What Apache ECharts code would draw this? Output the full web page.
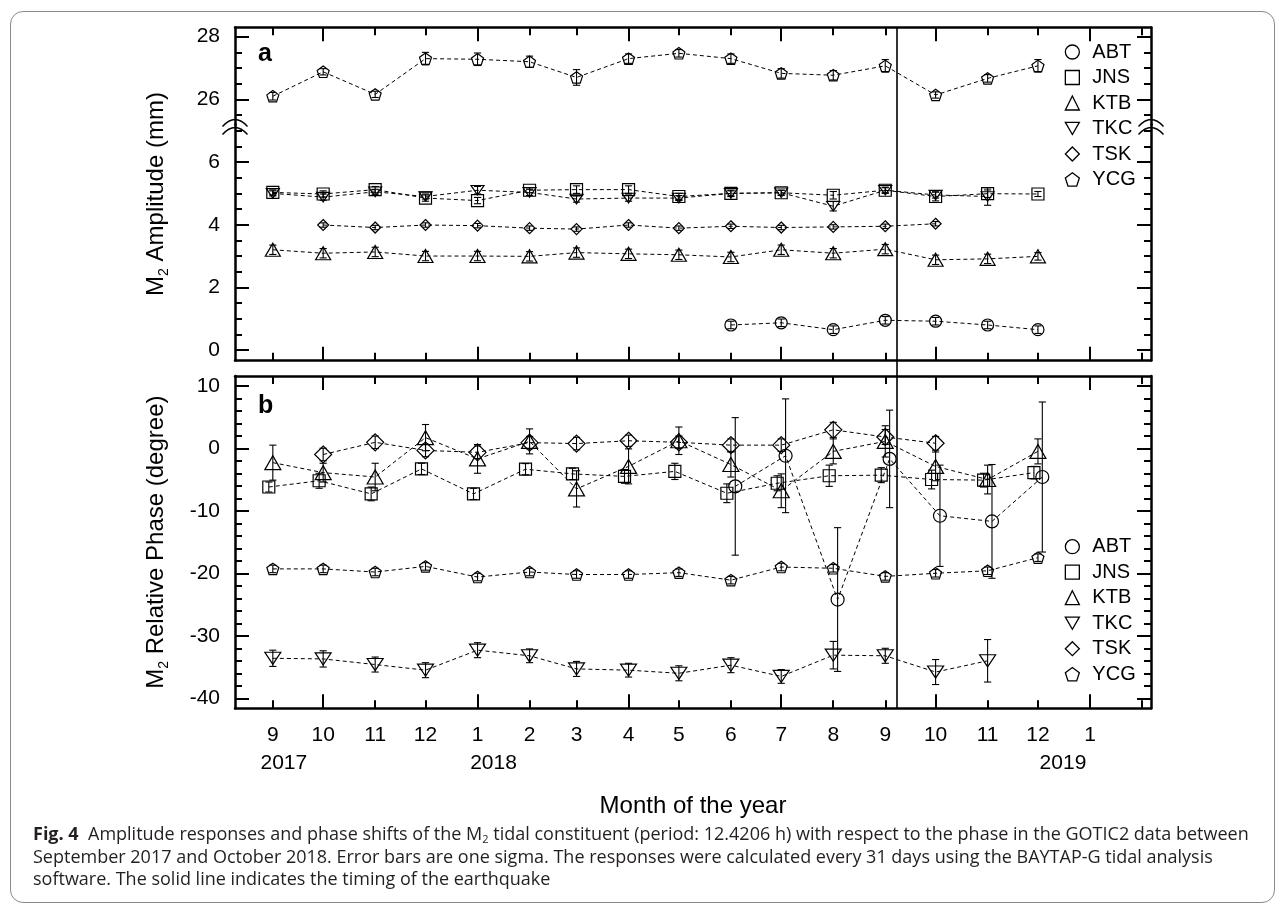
<!DOCTYPE html>
<html>
<head>
<meta charset="utf-8">
<script src="https://cdn.jsdelivr.net/npm/echarts@6/dist/echarts.min.js"></script>
<style>
html,body{margin:0;padding:0;background:#fff;}
#wrap{position:relative;width:1284px;height:906px;overflow:hidden;}
#frame{position:absolute;left:10px;top:11px;width:1265px;height:892px;border:1.5px solid #8a8a8a;border-radius:13px;box-sizing:border-box;}
#chart{position:absolute;left:0;top:0;width:1284px;height:906px;}
#cap{position:absolute;left:33px;top:822px;font-family:'Open Sans',sans-serif;font-size:18px;line-height:22.5px;color:#231f20;white-space:nowrap;}
#cap sub{font-size:11px;line-height:0;vertical-align:-3px;}
</style>
</head>
<body>
<div id="wrap">
<div id="frame"></div>
<div id="chart"></div>
<div id="cap"><b>Fig. 4</b>&nbsp; Amplitude responses and phase shifts of the M<sub>2</sub> tidal constituent (period: 12.4206 h) with respect to the phase in the GOTIC2 data between<br>September 2017 and October 2018. Error bars are one sigma. The responses were calculated every 31 days using the BAYTAP-G tidal analysis<br>software. The solid line indicates the timing of the earthquake</div>
</div>
<script>
// ---------------- DATA ----------------
const months = ['2017-09','2017-10','2017-11','2017-12','2018-01','2018-02','2018-03','2018-04',
                '2018-05','2018-06','2018-07','2018-08','2018-09','2018-10','2018-11','2018-12'];
const tickMonths = ['2017-09','2017-10','2017-11','2017-12','2018-01','2018-02','2018-03','2018-04','2018-05',
                    '2018-06','2018-07','2018-08','2018-09','2018-10','2018-11','2018-12','2019-01','2019-02'];
const longTickMonths = ['2017-10','2018-01','2018-04','2018-07','2018-10','2019-01'];
const monthLabelMonths = ['2017-09','2017-10','2017-11','2017-12','2018-01','2018-02','2018-03','2018-04','2018-05',
                          '2018-06','2018-07','2018-08','2018-09','2018-10','2018-11','2018-12','2019-01'];
const yearLabelMonths = ['2017-09','2018-01','2019-01'];
const earthquakeDate = '2018-09-08';

const stations = ['ABT','JNS','KTB','TKC','TSK','YCG'];

const ampMajorTicks = [0,2,4,6,26,28];
const ampMinorTicks = [0.5,1,1.5,2.5,3,3.5,4.5,5,5.5,6.5,7,25.5,26.5,27,27.5];
const phaseMajorTicks = [-40,-30,-20,-10,0,10];
const phaseMinorTicks = [-38,-36,-34,-32,-28,-26,-24,-22,-18,-16,-14,-12,-8,-6,-4,-2,2,4,6,8];

// Panel a: M2 amplitude (mm)
const ampABT    = [null,null,null,null,null,null,null,null,null,0.80,0.87,0.65,0.95,0.92,0.80,0.65];
const ampABTErr = [null,null,null,null,null,null,null,null,null,0.12,0.12,0.12,0.12,0.12,0.12,0.12];
const ampJNS    = [5.03,4.98,5.12,4.85,4.77,5.10,5.12,5.12,4.90,5.00,5.02,4.94,5.10,4.90,4.99,4.98];
const ampJNSErr = [0.08,0.10,0.10,0.10,0.10,0.08,0.12,0.12,0.10,0.10,0.08,0.12,0.10,0.14,0.12,0.08];
const ampKTB    = [3.20,3.09,3.13,3.00,3.00,2.99,3.11,3.07,3.04,2.97,3.20,3.09,3.22,2.88,2.91,2.99];
const ampKTBErr = [0.15,0.15,0.15,0.15,0.15,0.15,0.15,0.15,0.15,0.15,0.15,0.15,0.15,0.15,0.15,0.12];
const ampTKC    = [5.00,4.88,5.05,4.90,5.10,5.03,4.82,4.85,4.85,5.00,5.02,4.59,5.10,4.95,4.90,null];
const ampTKCErr = [0.08,0.10,0.08,0.08,0.12,0.10,0.10,0.10,0.08,0.08,0.08,0.15,0.08,0.10,0.28,null];
const ampTSK    = [null,3.99,3.91,3.99,3.97,3.89,3.86,3.99,3.89,3.95,3.91,3.93,3.95,4.03,null,null];
const ampTSKErr = [null,0.07,0.07,0.07,0.07,0.07,0.07,0.07,0.07,0.07,0.07,0.07,0.07,0.07,null,null];
const ampYCG    = [26.10,26.88,26.16,27.30,27.28,27.20,26.70,27.30,27.47,27.30,26.83,26.77,27.07,26.14,26.67,27.07];
const ampYCGErr = [0.12,0.10,0.10,0.20,0.20,0.18,0.25,0.15,0.12,0.15,0.15,0.15,0.20,0.10,0.12,0.20];

// Panel b: M2 relative phase (degree)
const phABT    = [null,null,null,null,null,null,null,null,null,-6.1,-1.2,-24.2,-1.7,-10.8,-11.7,-4.6];
const phABTErr = [null,null,null,null,null,null,null,null,null,11.0,9.1,11.5,7.8,8.1,9.1,12.0];
const phJNS    = [-6.2,-5.2,-7.3,-3.3,-7.3,-3.35,-4.1,-4.5,-3.7,-7.2,-5.6,-4.4,-4.3,-5.0,-5.1,-3.9];
const phJNSErr = [0.8,1.2,1.1,0.9,0.9,0.9,0.9,1.1,1.3,1.5,1.2,1.7,1.2,1.5,1.1,1.0];
const phKTB    = [-2.3,-3.9,-4.6,1.7,-1.7,1.1,-6.5,-2.9,1.2,-2.6,-6.8,-0.5,1.1,-2.9,-5.0,-0.5];
const phKTBErr = [2.8,1.5,2.2,2.1,2.3,2.0,2.9,2.8,2.2,2.0,2.7,2.0,2.5,2.3,2.3,2.0];
const phTKC    = [-33.6,-33.7,-34.6,-35.5,-32.3,-33.2,-35.3,-35.5,-36.0,-34.7,-36.5,-33.1,-33.2,-35.8,-34.0,null];
const phTKCErr = [1.3,1.3,1.2,1.2,1.2,1.1,1.2,1.1,1.2,1.2,1.1,2.2,1.2,2.0,3.4,null];
const phTSK    = [null,-1.0,0.95,-0.35,-0.65,0.9,0.75,1.2,0.95,0.5,0.5,2.95,1.8,0.8,null,null];
const phTSKErr = [null,1.0,1.0,1.0,1.0,1.0,1.0,0.9,1.0,1.0,1.0,1.2,1.2,1.1,null,null];
const phYCG    = [-19.3,-19.3,-19.8,-18.9,-20.6,-19.8,-20.2,-20.2,-19.9,-21.1,-19.0,-19.2,-20.5,-20.0,-19.6,-17.5];
const phYCGErr = [0.6,0.6,0.6,0.6,0.6,0.6,0.6,0.6,0.6,0.6,0.6,0.6,0.6,0.6,0.6,0.6];

const ampValues = {ABT:ampABT, JNS:ampJNS, KTB:ampKTB, TKC:ampTKC, TSK:ampTSK, YCG:ampYCG};
const ampErrors = {ABT:ampABTErr, JNS:ampJNSErr, KTB:ampKTBErr, TKC:ampTKCErr, TSK:ampTSKErr, YCG:ampYCGErr};
const phValues  = {ABT:phABT, JNS:phJNS, KTB:phKTB, TKC:phTKC, TSK:phTSK, YCG:phYCG};
const phErrors  = {ABT:phABTErr, JNS:phJNSErr, KTB:phKTBErr, TKC:phTKCErr, TSK:phTSKErr, YCG:phYCGErr};

// ---------------- STYLE ----------------
const FONT = '"Liberation Sans", Arial, Helvetica, sans-serif';
const INV_TRI = 'path://M0,0 L100,0 L50,86.6 Z';
const PENTAGON = 'path://M50,0 L97.55,34.55 L79.39,90.45 L20.61,90.45 L2.45,34.55 Z';
const stationStyle = {
  ABT: {symbol:'circle',   sizeA:[12,12], sizeB:[13,13], dodgeDaysB: 2.6},
  JNS: {symbol:'rect',     sizeA:[12,12], sizeB:[12,12], dodgeDaysB:-2.4},
  KTB: {symbol:'triangle', sizeA:[15,13], sizeB:[16,14], dodgeDaysB: 0},
  TKC: {symbol:INV_TRI,    sizeA:[13,11], sizeB:[16,14], dodgeDaysB: 0},
  TSK: {symbol:'diamond',  sizeA:[11,11], sizeB:[17,17], dodgeDaysB: 0},
  YCG: {symbol:PENTAGON,   sizeA:[12,12], sizeB:[12,12], dodgeDaysB: 0}
};
const yearLabelShift = {'2017': [0, 0, 0, 22], '2018': [0, 0, 0, 32], '2019': [0, 54, 0, 0]};
const DAY = 86400000;
const ts = s => { const p = s.split('-').map(Number); return new Date(p[0], p[1]-1, p[2] || 1).getTime(); };
const X_MIN = new Date(2017, 7, 9, 11).getTime();
const X_MAX = new Date(2019, 1, 6, 9).getTime();

const GRID_L = 235, GRID_W = 916;
const grids = [
  {left: GRID_L, top: 27.3, width: GRID_W, height: 333.4},
  {left: GRID_L, top: 376, width: GRID_W, height: 332.3}
];

const longTs = longTickMonths.map(ts);
const shortTs = tickMonths.filter(m => longTickMonths.indexOf(m) < 0).map(ts);
const labelTs = monthLabelMonths.map(ts);
const yearTs = yearLabelMonths.map(ts);

function xAxisDef(gridIndex, position, long, withLine, extra) {
  return Object.assign({
    type: 'value', gridIndex, position, min: X_MIN, max: X_MAX, scale: true,
    axisLine: {show: withLine, onZero: false, lineStyle: {color: '#000', width: 2.5}},
    axisTick: {show: true, inside: true, length: long ? 14 : 8, customValues: long ? longTs : shortTs,
               lineStyle: {color: '#000', width: 2}},
    axisLabel: {show: false},
    splitLine: {show: false}
  }, extra || {});
}
function yAxisDef(gridIndex, position, min, max, ticks, long, withLine, extra) {
  return Object.assign({
    type: 'value', gridIndex, position, min, max,
    axisLine: {show: withLine, onZero: false, lineStyle: {color: '#000', width: 2.5}},
    axisTick: {show: true, inside: true, length: long ? 14 : 7, customValues: ticks,
               lineStyle: {color: '#000', width: 2}},
    axisLabel: {show: false},
    splitLine: {show: false}
  }, extra || {});
}

const AMP_MIN = -0.34, AMP_MAX = 28.3;
const PH_MIN = -41.6, PH_MAX = 11.56;
const ampBreak = {breaks: [{start: 7.2, end: 25.2, gap: 0}], breakArea: {show: false}};

const nameRich = {
  a: {fontSize: 24, fontFamily: FONT, color: '#000', lineHeight: 30},
  b: {fontSize: 14, fontFamily: FONT, color: '#000', lineHeight: 14, verticalAlign: 'bottom'}
};

const yLabel = {show: true, inside: false, margin: 15, fontSize: 21, fontFamily: FONT, color: '#000',
                showMinLabel: true, showMaxLabel: true};

const yearRich = {};
Object.keys(yearLabelShift).forEach(function (y) {
  yearRich['y' + y] = {fontSize: 21, fontFamily: FONT, color: '#000', lineHeight: 28, padding: yearLabelShift[y]};
});

const xAxes = [
  xAxisDef(0, 'bottom', true, true),
  xAxisDef(0, 'bottom', false, false),
  xAxisDef(0, 'top', true, true),
  xAxisDef(0, 'top', false, false),
  xAxisDef(1, 'bottom', true, true, {
    name: 'Month of the year', nameLocation: 'middle', nameGap: 86,
    nameTextStyle: {fontSize: 24, fontFamily: FONT, color: '#000'},
    axisLabel: {
      show: true, customValues: labelTs, margin: 13, color: '#000', fontFamily: FONT, fontSize: 21,
      lineHeight: 28, showMinLabel: true, showMaxLabel: true,
      formatter: function (v) { return String(new Date(v).getMonth() + 1); }
    }
  }),
  xAxisDef(1, 'bottom', false, false),
  xAxisDef(1, 'top', true, true),
  xAxisDef(1, 'top', false, false),
  // year line under the month numbers
  xAxisDef(1, 'bottom', false, false, {
    axisTick: {show: false},
    axisLabel: {
      show: true, customValues: yearTs, margin: 41, color: '#000', fontFamily: FONT, fontSize: 21,
      showMinLabel: true, showMaxLabel: true,
      formatter: function (v) { const y = new Date(v).getFullYear(); return '{y' + y + '|' + y + '}'; },
      rich: yearRich
    }
  })
];

const yAxes = [
  yAxisDef(0, 'left', AMP_MIN, AMP_MAX, ampMajorTicks, true, true, Object.assign({
    name: '{a|M}{b|2}{a| Amplitude (mm)}', nameLocation: 'middle', nameGap: 64, nameRotate: 90,
    nameTextStyle: {rich: nameRich},
    axisLabel: Object.assign({customValues: ampMajorTicks}, yLabel)
  }, ampBreak)),
  yAxisDef(0, 'left', AMP_MIN, AMP_MAX, ampMinorTicks, false, false, ampBreak),
  yAxisDef(0, 'right', AMP_MIN, AMP_MAX, ampMajorTicks, true, true, ampBreak),
  yAxisDef(0, 'right', AMP_MIN, AMP_MAX, ampMinorTicks, false, false, ampBreak),
  yAxisDef(1, 'left', PH_MIN, PH_MAX, phaseMajorTicks, true, true, {
    name: '{a|M}{b|2}{a| Relative Phase (degree)}', nameLocation: 'middle', nameGap: 64, nameRotate: 90,
    nameTextStyle: {rich: nameRich},
    axisLabel: Object.assign({customValues: phaseMajorTicks}, yLabel)
  }),
  yAxisDef(1, 'left', PH_MIN, PH_MAX, phaseMinorTicks, false, false),
  yAxisDef(1, 'right', PH_MIN, PH_MAX, phaseMajorTicks, true, true),
  yAxisDef(1, 'right', PH_MIN, PH_MAX, phaseMinorTicks, false, false)
];

function errorRender(params, api) {
  const x = api.value(0), lo = api.value(1), hi = api.value(2);
  const p1 = api.coord([x, hi]), p2 = api.coord([x, lo]);
  const h = 3.6, st = {stroke: '#000', lineWidth: 1.1};
  return {type: 'group', children: [
    {type: 'line', shape: {x1: p1[0], y1: p1[1], x2: p2[0], y2: p2[1]}, style: st},
    {type: 'line', shape: {x1: p1[0] - h, y1: p1[1], x2: p1[0] + h, y2: p1[1]}, style: st},
    {type: 'line', shape: {x1: p2[0] - h, y1: p2[1], x2: p2[0] + h, y2: p2[1]}, style: st}
  ]};
}

const series = [];
function addPanel(values, errors, xIdx, yIdx, sizeKey, dodgeKey) {
  stations.forEach(function (s) {
    const st = stationStyle[s];
    const shift = dodgeKey ? st[dodgeKey] * DAY : 0;
    const pts = [], errs = [];
    months.forEach(function (m, i) {
      const v = values[s][i];
      if (v === null) return;
      const t = ts(m) + shift;
      pts.push([t, v]);
      const e = errors[s][i];
      if (e !== null) errs.push([t, v - e, v + e]);
    });
    series.push({
      type: 'custom', xAxisIndex: xIdx, yAxisIndex: yIdx, renderItem: errorRender,
      encode: {x: 0, y: [1, 2]}, data: errs, silent: true, z: 2
    });
    series.push({
      type: 'line', name: s, xAxisIndex: xIdx, yAxisIndex: yIdx, data: pts,
      symbol: st.symbol, symbolSize: st[sizeKey], symbolKeepAspect: true, showAllSymbol: true,
      itemStyle: {color: 'rgba(0,0,0,0)', borderColor: '#000', borderWidth: 1.2},
      lineStyle: {color: '#000', width: 1, type: [4, 3]},
      emphasis: {disabled: true}, z: 3
    });
  });
}
addPanel(ampValues, ampErrors, 0, 0, 'sizeA', null);
addPanel(phValues, phErrors, 4, 4, 'sizeB', 'dodgeDaysB');

function legendDef(top) {
  return {
    orient: 'vertical', left: 1059.7, top: top, itemWidth: 14, itemHeight: 14, itemGap: 5.5,
    selectedMode: false,
    itemStyle: {color: 'rgba(0,0,0,0)', borderColor: '#000', borderWidth: 1.3},
    textStyle: {fontSize: 20, fontFamily: FONT, color: '#000', lineHeight: 20, padding: [0, 0, 0, 8]},
    data: stations.map(s => ({name: s, icon: stationStyle[s].symbol}))
  };
}

const chart = echarts.init(document.getElementById('chart'));
chart.setOption({
  animation: false,
  backgroundColor: 'rgba(0,0,0,0)',
  grid: grids,
  xAxis: xAxes,
  yAxis: yAxes,
  legend: [legendDef(37), legendDef(531.7)],
  series: series
});

// earthquake line spanning both panels and axis-break marks, placed through the axis scales
const xq = chart.convertToPixel({xAxisIndex: 0}, ts(earthquakeDate));
const yTopA = chart.convertToPixel({yAxisIndex: 0}, AMP_MAX);
const yBotB = chart.convertToPixel({yAxisIndex: 4}, PH_MIN);
const yBrk = chart.convertToPixel({yAxisIndex: 0}, 7.2);
const xL = chart.convertToPixel({xAxisIndex: 0}, X_MIN);
const xR = chart.convertToPixel({xAxisIndex: 0}, X_MAX);
function breakMark(x, y) {
  const st = {stroke: '#000', lineWidth: 1.4, fill: null};
  return [
    {type: 'bezierCurve', shape: {x1: x - 12.5, y1: y + 2, x2: x + 12.5, y2: y + 2, cpx1: x, cpy1: y - 12}, style: st},
    {type: 'bezierCurve', shape: {x1: x - 12.5, y1: y + 10, x2: x + 12.5, y2: y + 10, cpx1: x, cpy1: y - 4}, style: st}
  ];
}
chart.setOption({
  graphic: [
    {type: 'line', shape: {x1: xq, y1: yTopA, x2: xq, y2: yBotB}, style: {stroke: '#000', lineWidth: 1.6}, z: 10},
    ...breakMark(xL, yBrk),
    ...breakMark(xR, yBrk),
    {type: 'text', style: {text: 'a', x: xL + 23, y: 54, font: 'bold 25px ' + FONT, fill: '#000', verticalAlign: 'middle'}},
    {type: 'text', style: {text: 'b', x: xL + 23, y: 406, font: 'bold 25px ' + FONT, fill: '#000', verticalAlign: 'middle'}}
  ]
});
</script>
</body>
</html>
